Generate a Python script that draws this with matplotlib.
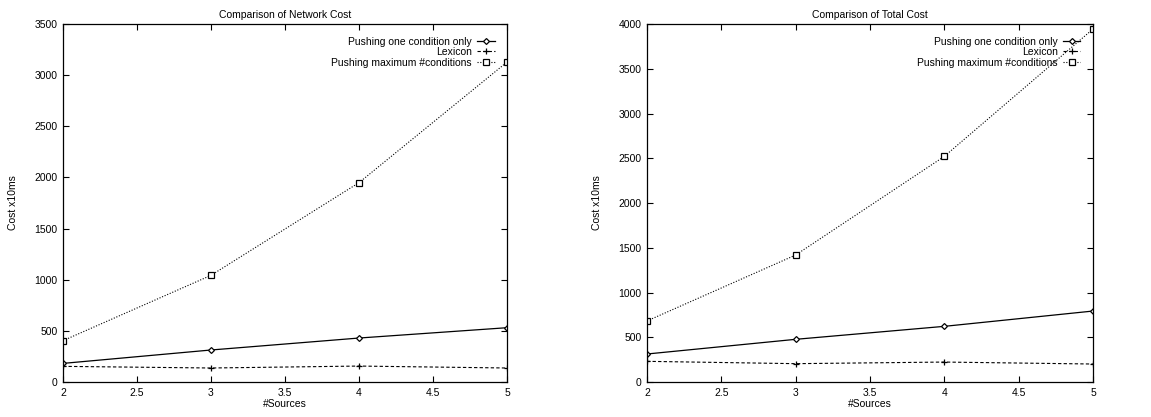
import matplotlib
matplotlib.use("Agg")
import matplotlib.pyplot as plt

plt.rcParams["font.family"] = ["Liberation Sans", "DejaVu Sans"]
plt.rcParams["font.size"] = 7.5

# number of sources on the x axis
sources = [2, 3, 4, 5]

# network cost (x10ms)
net_one = [182, 313, 430, 531]
net_lexicon = [153, 137, 156, 137]
net_max = [404, 1043, 1949, 3128]

# total cost (x10ms)
tot_one = [313, 477, 622, 793]
tot_lexicon = [231, 205, 223, 201]
tot_max = [682, 1419, 2521, 3944]

labels = ["Pushing one condition only", "Lexicon", "Pushing maximum #conditions"]


def draw(ax, one, lex, mx, title, ymax):
    ax.plot(sources, one, "k-", lw=0.9, marker="D", ms=3, mfc="white",
            mec="black", mew=0.9, label=labels[0])
    ax.plot(sources, lex, "k", ls=(0, (3, 2)), lw=0.8, marker="+", ms=5,
            mew=0.9, label=labels[1])
    ax.plot(sources, mx, "k", ls=(0, (1, 1.5)), lw=0.8, marker="s", ms=4.5,
            mfc="white", mec="black", mew=0.9, label=labels[2])
    ax.set_xlim(2, 5)
    ax.set_ylim(0, ymax)
    ax.set_xticks([2, 2.5, 3, 3.5, 4, 4.5, 5])
    ax.set_xticklabels(["2", "2.5", "3", "3.5", "4", "4.5", "5"])
    ax.set_yticks(range(0, ymax + 1, 500))
    ax.tick_params(direction="in", top=True, right=True, length=4, width=0.8,
                   pad=4)
    for s in ax.spines.values():
        s.set_linewidth(0.9)
    ax.set_title(title, fontsize=7.5, pad=4)
    ax.set_xlabel("#Sources", labelpad=1)
    ax.set_ylabel("Cost x10ms", labelpad=12)
    ax.legend(loc="upper right", frameon=False, markerfirst=False,
              handlelength=1.7, handletextpad=0.5, labelspacing=0.05,
              borderaxespad=0.8, fontsize=7.5)


fig = plt.figure(figsize=(11.51, 4.17), dpi=100)
ax1 = fig.add_axes([0.0547, 0.0839, 0.3858, 0.8585])
ax2 = fig.add_axes([0.5621, 0.0839, 0.3875, 0.8585])

draw(ax1, net_one, net_lexicon, net_max, "Comparison of Network Cost", 3500)
draw(ax2, tot_one, tot_lexicon, tot_max, "Comparison of Total Cost", 4000)

fig.savefig("out.png", dpi=100)
